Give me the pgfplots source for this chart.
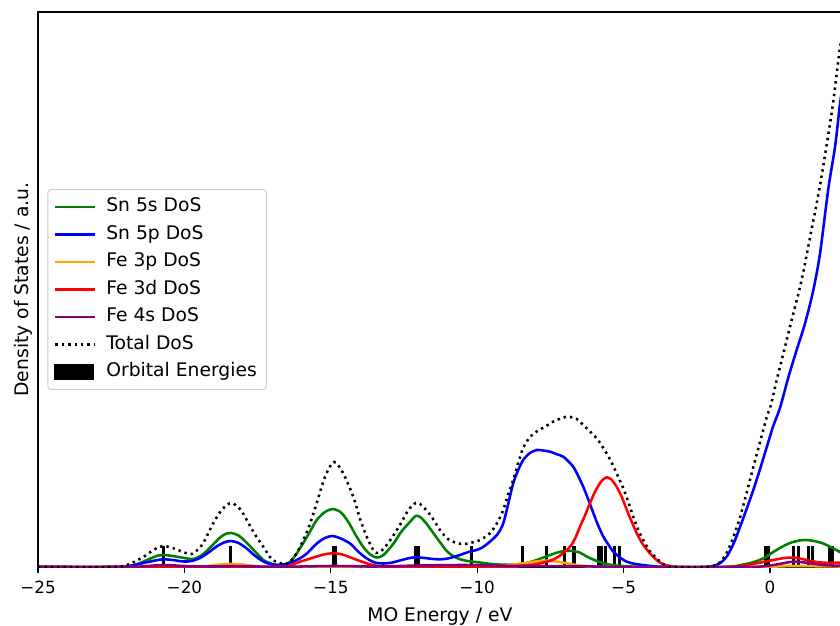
\documentclass[border=0pt]{standalone}
\usepackage{fontspec}
\setmainfont{DejaVu Sans}
\usepackage{pgfplots}
\pgfplotsset{compat=1.18}
\usetikzlibrary{calc}
\definecolor{mplgreen}{RGB}{0,128,0}
\definecolor{mplblue}{RGB}{0,0,255}
\definecolor{mplorange}{RGB}{255,165,0}
\definecolor{mplred}{RGB}{255,0,0}
\definecolor{mplpurple}{RGB}{128,0,128}
\begin{document}
\begin{tikzpicture}
\begin{axis}[
  scale only axis, width=502.34pt, height=346.875pt,
  xmin=-25, xmax=2.45, ymin=0, ymax=555,
  axis line style={line width=0.8pt},
  xtick={-25,-20,-15,-10,-5,0},
  xticklabels={−25,−20,−15,−10,−5,0},
  ytick=\empty,
  tick align=outside, tick pos=left,
  major tick length=3.5pt,
  every tick/.style={black, line width=0.8pt},
  xticklabel style={font=\fontsize{10.5}{12}\selectfont},
  xticklabel shift=2pt,
  xlabel={MO Energy / eV},
  ylabel={Density of States / a.u.},
  xlabel shift=1.4pt,
  ylabel shift=-3.75pt,
  label style={font=\fontsize{11.7}{14}\selectfont},
  legend image code/.code={\draw[#1, line width=1.6pt, sharp corners] (0pt,0pt) -- (25pt,0pt);},
  legend style={at={(0.0116,0.5)}, anchor=west, draw=black!20, line width=0.6pt,
    rounded corners=2pt, inner xsep=4pt, inner ysep=2.2pt, row sep=0pt,
    font=\fontsize{11.7}{14}\selectfont,
    nodes={text height=8.6pt, text depth=2.6pt, inner ysep=3pt, inner xsep=2pt},
    column sep=4pt},
  legend cell align=left,
  every axis plot/.append style={line width=1.6pt},
]
\coordinate (SW) at (rel axis cs:0,0);
% orbital energies
\addplot[ycomb, black, line width=1.83pt, forget plot, mark=none] coordinates {
(-20.72,21) (-18.41,21) (-14.92,21) (-14.87,21) (-14.83,21) (-12.12,21) (-11.99,21)
(-10.21,21) (-8.46,21) (-7.62,21) (-7.03,21) (-6.71,21) (-6.66,21)
(-5.87,21) (-5.76,21) (-5.62,21) (-5.30,21) (-5.14,21)
(-0.14,21) (-0.06,21) (0.79,21) (0.96,21) (1.33,21) (1.45,21) (2.03,21) (2.14,21)
};
% Sn 5s
\addplot[mplgreen, smooth, tension=0.5] coordinates {
(-25,0) (-22.5,0) (-22.0,0.5) (-21.6,3) (-21.2,8) (-20.9,11.5) (-20.7,12) (-20.4,11)
(-20.0,9) (-19.7,8) (-19.4,12) (-19.1,20) (-18.8,29) (-18.6,33) (-18.4,34) (-18.15,31.5)
(-17.9,25) (-17.6,16) (-17.3,7) (-17.0,3) (-16.8,2) (-16.6,2.5) (-16.4,5) (-16.2,12)
(-15.94,24) (-15.7,36) (-15.48,47) (-15.2,55) (-14.93,58) (-14.65,54.5) (-14.4,45)
(-14.15,32) (-13.89,20) (-13.65,12.5) (-13.43,9.5) (-13.2,12) (-12.87,23) (-12.6,35)
(-12.3,45) (-12.1,51) (-11.95,50) (-11.75,44) (-11.5,34) (-11.25,24) (-11.04,16)
(-10.8,10.5) (-10.5,7) (-10.2,5.5) (-9.9,4.5) (-9.5,3) (-9.1,2.3) (-8.7,2.5) (-8.3,4)
(-7.97,7) (-7.51,12) (-7.2,15) (-6.85,16.3) (-6.5,14.5) (-6.26,10.5) (-6.0,7)
(-5.69,3.7) (-5.4,2) (-5.12,1.2) (-4.6,0.3) (-4,0) (-2,0) (-1.3,0.5) (-1.0,2)
(-0.6,4.5) (-0.2,9) (0.11,15) (0.4,20) (0.68,24) (1.0,26.5) (1.25,27) (1.5,26)
(1.82,23.5) (2.1,19.5) (2.39,15) (2.45,14)
};
\addlegendentry{Sn 5s DoS}
% Sn 5p
\addplot[mplblue, smooth, tension=0.5] coordinates {
(-25,0) (-22.4,0) (-22.0,0.5) (-21.7,2) (-21.4,4) (-21.0,6.5) (-20.72,7.7) (-20.4,7)
(-20.04,5.5) (-19.75,6) (-19.47,9) (-19.2,14) (-18.9,20.5) (-18.65,24.5) (-18.41,26)
(-18.15,24) (-17.87,18.5) (-17.6,11.5) (-17.3,5.5) (-17.0,2.5) (-16.74,2) (-16.4,4)
(-16.05,8.7) (-15.8,14) (-15.48,23.5) (-15.2,29) (-14.95,31) (-14.7,29) (-14.34,23.5)
(-14.05,15) (-13.77,8.5) (-13.5,4.5) (-13.2,3.5) (-12.9,4.5) (-12.64,6.5) (-12.3,9)
(-12.07,9.8) (-11.8,9) (-11.5,8) (-11.27,7.7) (-11.0,8.5) (-10.59,12) (-10.3,15)
(-10.02,17) (-9.8,20) (-9.56,25.5) (-9.3,33) (-9.11,43.7) (-8.95,62) (-8.77,83.7)
(-8.6,97) (-8.43,107) (-8.2,114) (-7.97,117) (-7.75,116.5) (-7.51,115.3) (-7.3,113)
(-7.06,110.3) (-6.9,106) (-6.72,100.3) (-6.55,91) (-6.38,80.3) (-6.2,67) (-6.03,53.7)
(-5.86,41) (-5.69,30.3) (-5.5,21.5) (-5.35,15.3) (-5.1,9) (-4.89,5.3) (-4.6,3)
(-4.33,2) (-4.0,0.8) (-3.5,0) (-2.3,0) (-1.94,1) (-1.7,4) (-1.48,10.3) (-1.25,23)
(-1.02,40.3) (-0.8,58) (-0.57,77) (-0.34,98) (-0.11,120) (0.11,141) (0.34,159)
(0.63,190) (0.91,217) (1.2,244) (1.48,277) (1.71,314) (1.99,378) (2.22,420)
(2.37,458) (2.45,476)
};
\addlegendentry{Sn 5p DoS}
% Fe 3p
\addplot[mplorange, smooth, tension=0.5] coordinates {
(-25,0) (-19.8,0) (-19.2,1) (-18.8,2.5) (-18.4,3) (-18.0,2.5) (-17.6,1) (-17.0,0)
(-10,0) (-9.5,0.5) (-9.0,1.5) (-8.5,3.5) (-8.0,5.5) (-7.63,6.3) (-7.3,5.5) (-7.0,4)
(-6.6,2) (-6.2,0.8) (-5.7,0) (-0.5,0) (0,0.3) (0.8,1) (1.5,0.8) (2.45,0.5)
};
\addlegendentry{Fe 3p DoS}
% Fe 3d
\addplot[mplred, smooth, tension=0.5] coordinates {
(-25,0) (-16.9,0) (-16.6,0.5) (-16.3,2.5) (-16.05,5.3) (-15.75,8) (-15.48,10.5)
(-15.2,12.8) (-14.9,13.7) (-14.6,12.5) (-14.34,9.7) (-14.05,6.5) (-13.77,3.7)
(-13.5,1.5) (-13.2,0.5) (-12.8,0) (-9.0,0) (-8.6,1) (-8.2,2) (-7.8,4) (-7.4,7.5)
(-7.1,13) (-6.83,20.3) (-6.65,29) (-6.49,40.3) (-6.3,53) (-6.15,63.7) (-5.98,75)
(-5.81,83.7) (-5.68,88) (-5.56,89.7) (-5.4,87) (-5.24,80.3) (-5.06,70) (-4.89,57)
(-4.72,45) (-4.55,33.7) (-4.35,23) (-4.1,13.7) (-3.87,7) (-3.64,2.5) (-3.3,0.5)
(-3.0,0) (-1.5,0) (-1.0,1) (-0.45,3.7) (0.11,7) (0.5,9) (0.8,9.5) (1.1,8) (1.25,7)
(1.5,5.5) (1.82,4.3) (2.1,4.2) (2.45,4.3)
};
\addlegendentry{Fe 3d DoS}
% Fe 4s
\addplot[mplpurple, smooth, tension=0.5] coordinates {
(-25,0) (-22,0) (-21.5,0.5) (-20.7,2) (-20,1) (-19,0.5) (-18.4,1) (-17.5,0.5)
(-16.5,0.3) (-14.9,1) (-13.5,0.5) (-12,1.5) (-10.5,2) (-9.5,1.5) (-8.5,1) (-7,0.8)
(-6,0.5) (-5,0) (-1,0) (-0.3,0.5) (0.11,2) (0.5,4) (0.8,5.3) (1.25,4.3) (1.82,2)
(2.45,1.2)
};
\addlegendentry{Fe 4s DoS}
% Total
\addplot[black, smooth, tension=0.5, dash pattern=on 1.5pt off 2.475pt] coordinates {
(-25,0) (-22.5,0) (-22.1,1) (-21.8,4) (-21.4,10) (-21.0,18) (-20.72,21) (-20.4,19)
(-20.0,14.5) (-19.75,13) (-19.4,22) (-19.01,44) (-18.7,58) (-18.4,64) (-18.1,58)
(-17.87,47) (-17.6,33) (-17.3,20) (-17.05,9) (-16.85,5) (-16.5,3) (-16.3,8) (-16.05,20)
(-15.75,40) (-15.48,64) (-15.2,90) (-14.9,105) (-14.6,95) (-14.23,70) (-14.0,48)
(-13.77,30) (-13.55,17) (-13.43,14) (-13.2,18) (-12.9,30) (-12.64,42) (-12.35,57)
(-12.1,64) (-11.95,63) (-11.6,52) (-11.27,37) (-11.0,28) (-10.7,24) (-10.47,23)
(-10.25,24) (-9.9,27) (-9.56,34) (-9.3,45) (-9.11,57) (-8.95,72) (-8.77,87) (-8.6,104)
(-8.43,119) (-8.2,130) (-7.97,135.5) (-7.7,140) (-7.4,145.5) (-7.1,149) (-6.89,150.3)
(-6.6,148) (-6.38,142) (-6.15,135.5) (-5.92,128.7) (-5.75,121.5) (-5.58,113.7)
(-5.4,104) (-5.24,93.7) (-5.01,78.7) (-4.85,66) (-4.67,50.3) (-4.5,37) (-4.33,27)
(-4.1,15.5) (-3.87,8.7) (-3.7,4) (-3.53,1.3) (-3.2,0) (-2.3,0) (-1.94,1) (-1.7,5)
(-1.48,14) (-1.25,30) (-1.02,50) (-0.8,74) (-0.57,100) (-0.34,125) (-0.11,150)
(0.03,162) (0.23,187) (0.51,220) (0.8,254) (1.08,287) (1.37,330) (1.71,382)
(2.11,455) (2.28,494) (2.37,515) (2.45,530)
};
\addlegendentry{Total DoS}
\addlegendimage{legend image code/.code={\fill[black, sharp corners] (0pt,-4.15pt) rectangle (23.5pt,4.15pt);}}
\addlegendentry{Orbital Energies}
\end{axis}
\pgfresetboundingbox
\path[use as bounding box] ($(SW)+(-23.75pt,-36.25pt)$) rectangle ($(SW)+(501.25pt,354.375pt)$);
\end{tikzpicture}
\end{document}
